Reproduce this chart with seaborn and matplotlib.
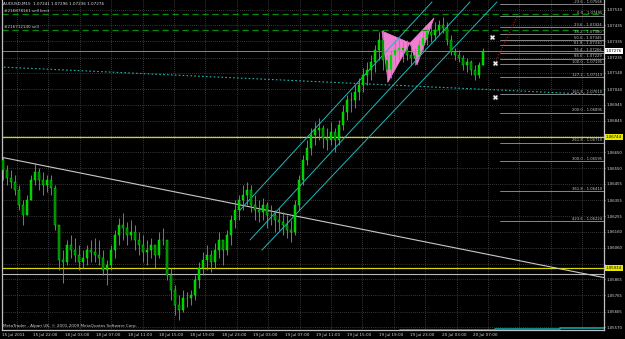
import numpy as np
import pandas as pd
import matplotlib
matplotlib.use("Agg")
import matplotlib.pyplot as plt
import seaborn as sns
from matplotlib.patches import Polygon
from matplotlib.transforms import blended_transform_factory

# ---------------- data ----------------
first_open = 1.06600
highs = [1.06621, 1.06571, 1.06540, 1.06509, 1.06448, 1.06355, 1.06386, 1.06509, 1.06584, 1.06553,
         1.06528, 1.06509, 1.06509, 1.06448, 1.06200, 1.06046, 1.06108, 1.06138, 1.06120, 1.06077,
         1.06046, 1.06077, 1.06108, 1.06120, 1.06108, 1.06046, 1.05984, 1.06077, 1.06169, 1.06244,
         1.06275, 1.06219, 1.06231, 1.06200, 1.06157, 1.06138, 1.06108, 1.06120, 1.06077, 1.06157,
         1.06182, 1.06108, 1.05935, 1.05829, 1.05768, 1.05799, 1.05786, 1.05799, 1.05891, 1.05972,
         1.06034, 1.06077, 1.06046, 1.06089, 1.06157, 1.06108, 1.06169, 1.06262, 1.06355, 1.06386,
         1.06448, 1.06466, 1.06448, 1.06386, 1.06355, 1.06367, 1.06343, 1.06324, 1.06293, 1.06306,
         1.06281, 1.06262, 1.06231, 1.06355, 1.06509, 1.06633, 1.06726, 1.06800, 1.06837, 1.06862,
         1.06818, 1.06800, 1.06837, 1.06800, 1.06849, 1.06942, 1.07004, 1.07022, 1.07066, 1.07109,
         1.07171, 1.07208, 1.07251, 1.07313, 1.07393, 1.07406, 1.07251, 1.07282, 1.07344, 1.07356,
         1.07331, 1.07344, 1.07313, 1.07294, 1.07344, 1.07406, 1.07424, 1.07436, 1.07455, 1.07467,
         1.07486, 1.07455, 1.07375, 1.07294, 1.07282, 1.07251, 1.07233, 1.07220, 1.07189, 1.07208,
         1.07294]
lows = [1.06478, 1.06448, 1.06429, 1.06386, 1.06293, 1.06200, 1.06262, 1.06355, 1.06448, 1.06417,
        1.06386, 1.06404, 1.06386, 1.06169, 1.05922, 1.05842, 1.05953, 1.05997, 1.05972, 1.05922,
        1.05935, 1.05953, 1.05972, 1.05972, 1.05953, 1.05891, 1.05829, 1.05922, 1.05997, 1.06077,
        1.06108, 1.06077, 1.06108, 1.06046, 1.06015, 1.05972, 1.05953, 1.05997, 1.05935, 1.05997,
        1.06077, 1.05860, 1.05737, 1.05644, 1.05613, 1.05663, 1.05694, 1.05706, 1.05737, 1.05811,
        1.05891, 1.05922, 1.05910, 1.05935, 1.05997, 1.05953, 1.06015, 1.06077, 1.06182, 1.06231,
        1.06293, 1.06324, 1.06281, 1.06231, 1.06219, 1.06231, 1.06182, 1.06200, 1.06157, 1.06169,
        1.06138, 1.06120, 1.06095, 1.06138, 1.06293, 1.06448, 1.06571, 1.06633, 1.06695, 1.06726,
        1.06676, 1.06664, 1.06695, 1.06652, 1.06695, 1.06788, 1.06849, 1.06899, 1.06924, 1.06973,
        1.07022, 1.07066, 1.07097, 1.07146, 1.07220, 1.07158, 1.07084, 1.07109, 1.07189, 1.07220,
        1.07208, 1.07220, 1.07189, 1.07189, 1.07233, 1.07282, 1.07313, 1.07331, 1.07344, 1.07375,
        1.07387, 1.07313, 1.07251, 1.07220, 1.07208, 1.07158, 1.07146, 1.07127, 1.07097, 1.07109,
        1.07189]
closes = [1.06540, 1.06491, 1.06466, 1.06417, 1.06324, 1.06262, 1.06355, 1.06478, 1.06528, 1.06478,
          1.06448, 1.06478, 1.06429, 1.06200, 1.05984, 1.05972, 1.06077, 1.06046, 1.06015, 1.05972,
          1.05997, 1.06046, 1.06034, 1.06015, 1.05997, 1.05922, 1.05953, 1.06046, 1.06138, 1.06200,
          1.06182, 1.06138, 1.06157, 1.06108, 1.06077, 1.06034, 1.06046, 1.06077, 1.06015, 1.06108,
          1.06108, 1.05891, 1.05799, 1.05706, 1.05675, 1.05749, 1.05749, 1.05768, 1.05860, 1.05935,
          1.05984, 1.06015, 1.05972, 1.06046, 1.06108, 1.06046, 1.06138, 1.06231, 1.06293, 1.06355,
          1.06386, 1.06417, 1.06324, 1.06293, 1.06281, 1.06324, 1.06262, 1.06262, 1.06231, 1.06219,
          1.06200, 1.06169, 1.06157, 1.06324, 1.06478, 1.06602, 1.06676, 1.06757, 1.06788, 1.06800,
          1.06738, 1.06726, 1.06775, 1.06726, 1.06818, 1.06899, 1.06973, 1.06973, 1.07022, 1.07066,
          1.07127, 1.07158, 1.07208, 1.07282, 1.07344, 1.07220, 1.07158, 1.07251, 1.07282, 1.07294,
          1.07282, 1.07251, 1.07233, 1.07251, 1.07313, 1.07356, 1.07393, 1.07375, 1.07406, 1.07436,
          1.07418, 1.07344, 1.07270, 1.07251, 1.07233, 1.07189, 1.07208, 1.07158, 1.07127, 1.07189,
          1.07276]

time_labels = ["15 Jul 2011", "15 Jul 22:00", "18 Jul 03:00", "18 Jul 07:00", "18 Jul 11:00",
               "18 Jul 15:00", "18 Jul 19:00", "18 Jul 23:00", "19 Jul 03:00", "19 Jul 07:00",
               "19 Jul 11:00", "19 Jul 15:00", "19 Jul 19:00", "19 Jul 23:00", "20 Jul 03:00",
               "20 Jul 07:00"]
price_ticks = [1.07530, 1.07435, 1.07335, 1.07235, 1.07140, 1.07040, 1.06945, 1.06845, 1.06750,
               1.06650, 1.06550, 1.06455, 1.06355, 1.06255, 1.06160, 1.06060, 1.05960, 1.05865,
               1.05765, 1.05665, 1.05570]

bid_price = 1.07276
yellow_levels = [1.06744, 1.05934]
gray_level = 1.05898
order_prices = [1.07504, 1.07406]
order_labels = ["#216878161 sell limit", "#216712140 sell"]

trend_x = [-0.75, 150.75]
trend_p = [1.06621, 1.05873]
dotted_x = [-0.75, 150.75]
dotted_p = [1.07177, 1.07004]
channel_x = [[59.25, 107.25], [61.75, 116.75], [64.75, 123.5]]
channel_p = [[1.06293, 1.07579], [1.06108, 1.07579], [1.06046, 1.07579]]

butterfly_x = [94.75, 96.25, 101.75, 103.5, 107.75]
butterfly_p = [1.07399, 1.07084, 1.07325, 1.07189, 1.07480]

marker_x = [122.25, 123.0, 123.0]
marker_p = [1.07362, 1.07202, 1.06992]
red_x = [123.0, 128.5]
red_p = [1.07202, 1.07486]
teal_x = [99.25, 123.0, 139.25, 150.75]
teal_p = [1.05554, 1.05558, 1.05561, 1.05567]

fib_levels = ["-23.6", "0.0", "23.6", "38.2", "50.0", "61.8", "76.4", "88.6", "100.0", "127.2",
              "161.8", "200.0", "261.8", "300.0", "361.8", "423.6"]
fib_prices = [1.07566, 1.07495, 1.07424, 1.07380, 1.07345, 1.07310, 1.07266, 1.07229, 1.07195,
              1.07113, 1.07010, 1.06895, 1.06710, 1.06595, 1.06410, 1.06224]

# ---------------- layout helpers ----------------
W, H = 625, 339
PX0, PX1 = 2, 604          # plot area in pixels (x)
PY1 = 330                  # plot area bottom in pixels
def ux(px):                # pixel -> candle index units
    return (px - 3) / 4.0
YTOP, YBOT = 1.07591, 1.07591 - 0.0000618 * 330

sns.set_theme(style="dark")
plt.rcParams["font.family"] = ["DejaVu Sans"]

fig = plt.figure(figsize=(W / 100, H / 100), dpi=100, facecolor="black")
ax = fig.add_axes([PX0 / W, (H - PY1) / H, (PX1 - PX0) / W, PY1 / H])
ax.set_facecolor("black")
ax.set_xlim(ux(PX0), ux(PX1))
ax.set_ylim(YBOT, YTOP)

# grid
grid_c = "#6a6a6a"
for t in price_ticks:
    ax.axhline(t, color=grid_c, lw=0.5, ls=(0, (1, 2)), zorder=0)
for i in range(20):
    px = 17 + 31.4 * i
    if px < PX1:
        ax.axvline(ux(px), color=grid_c, lw=0.5, ls=(0, (1, 2)), zorder=0)

# butterfly pattern
pink = "#f07ed2"
ax.add_patch(Polygon(list(zip(butterfly_x[:3], butterfly_p[:3])), closed=True,
                     facecolor=pink, edgecolor=pink, lw=0.5, zorder=1))
ax.add_patch(Polygon(list(zip(butterfly_x[2:], butterfly_p[2:])), closed=True,
                     facecolor=pink, edgecolor=pink, lw=0.5, zorder=1))

# horizontal levels
for lv in yellow_levels:
    ax.axhline(lv, color="#d8d800", lw=0.9, zorder=2)
ax.axhline(gray_level, color="#b8b8b8", lw=0.8, zorder=2)
ax.axhline(bid_price, color="#9a9a9a", lw=0.6, zorder=2)
for lv in order_prices:
    ax.axhline(lv, color="#0a8a0a", lw=0.9, ls=(0, (5, 3)), zorder=2)

# trend / channel lines
sns.lineplot(x=trend_x, y=trend_p, color="#c8c8c8", lw=0.8, ax=ax, zorder=2)
sns.lineplot(x=dotted_x, y=dotted_p, color="#1fb4b0", lw=0.8, ls=(0, (1.5, 2)), ax=ax, zorder=2)
chan = pd.DataFrame({
    "x": [v for xs in channel_x for v in xs],
    "p": [v for ps in channel_p for v in ps],
    "line": [i for i, xs in enumerate(channel_x) for _ in xs],
})
sns.lineplot(data=chan, x="x", y="p", units="line", estimator=None, color="#20b8b8",
             lw=0.7, ax=ax, zorder=2)
sns.lineplot(x=teal_x, y=teal_p, color="#10a0a0", lw=1.2, ax=ax, zorder=2, drawstyle="steps-post")

# fibonacci lines
fx0, fx1 = ux(500), ux(PX1)
for lvl, pr in zip(fib_levels, fib_prices):
    ax.plot([fx0, fx1], [pr, pr], color="#9c9c9c", lw=0.6, zorder=2)
    ax.text(ux(602), pr + 0.00001, f"{lvl} - {pr:.5f}", color="#c8c8c8", fontsize=2.7,
            ha="right", va="bottom", zorder=5)

# red dotted order link
ax.plot(red_x, red_p, color="#c01010", lw=0.8, ls=(0, (1, 1.5)), zorder=3)

# candles
opens = [first_open] + closes[:-1]
xs = np.arange(len(closes))
ax.vlines(xs, lows, highs, color="#00ee00", lw=0.6, zorder=4)
up = [c >= o for o, c in zip(opens, closes)]
body_b = [min(o, c) for o, c in zip(opens, closes)]
body_h = [max(abs(c - o), 0.00002) for o, c in zip(opens, closes)]
ax.bar(xs, body_h, bottom=body_b, width=0.5,
       color=["#00c800" if u else "#007a00" for u in up],
       edgecolor="#00ff00", linewidth=0.3, zorder=4)

# order markers
sns.scatterplot(x=marker_x, y=marker_p, marker="X", s=14, color="white",
                edgecolor="#606060", linewidth=0.4, ax=ax, zorder=6)

# axes styling
for s in ["left", "bottom", "right"]:
    ax.spines[s].set_color("#c0c0c0")
    ax.spines[s].set_linewidth(0.9)
ax.spines["top"].set_visible(False)
ax.grid(False)

highlighted = [bid_price] + yellow_levels
tick_texts = []
for t in price_ticks:
    hidden = any(abs(t - h) < 0.00030 for h in yellow_levels)
    tick_texts.append("" if hidden else f"{t:.5f}")
ax.yaxis.tick_right()
ax.set_yticks(price_ticks)
ax.set_yticklabels(tick_texts)
ax.tick_params(axis="y", colors="#c0c0c0", labelcolor="#d8d8d8", labelsize=2.8, length=1.0,
               width=0.5, pad=0.5, right=True, left=False)
ax.set_xticks([ux(2 + 31.4 * i) for i in range(len(time_labels))])
ax.set_xticklabels(time_labels, ha="left")
ax.tick_params(axis="x", colors="#c0c0c0", labelcolor="#d8d8d8", labelsize=3, length=1.5,
               width=0.5, pad=1.0)
ax.set_xlabel("")
ax.set_ylabel("")
if ax.get_legend():
    ax.get_legend().remove()

# highlighted price labels
tr = blended_transform_factory(ax.transAxes, ax.transData)
ax.text(1.003, bid_price, f"{bid_price:.5f}", transform=tr, fontsize=2.8, color="black",
        va="center", ha="left", clip_on=False, zorder=7,
        bbox=dict(boxstyle="square,pad=0.2", fc="white", ec="none"))
for lv in yellow_levels:
    ax.text(1.003, lv, f"{lv:.5f}", transform=tr, fontsize=2.8, color="black",
            va="center", ha="left", clip_on=False, zorder=7,
            bbox=dict(boxstyle="square,pad=0.2", fc="#e8e800", ec="none"))

# texts
fig.text(3 / W, 1 - 4 / H, "AUDUSD,M15  1.07241 1.07296 1.07236 1.07276", color="#e0e0e0",
         fontsize=3, va="center", ha="left")
for lv, lab in zip(order_prices, order_labels):
    ax.text(ux(4), lv + 0.00005, lab, color="#c8c8c8", fontsize=3, va="bottom", ha="left", zorder=6)
fig.text(3 / W, 1 - 326 / H, "MetaTrader - Alpari UK, \u00a9 2001-2009 MetaQuotes Software Corp.",
         color="#d0d0d0", fontsize=3, va="center", ha="left")

fig.savefig("out.png", dpi=100, facecolor="black")
